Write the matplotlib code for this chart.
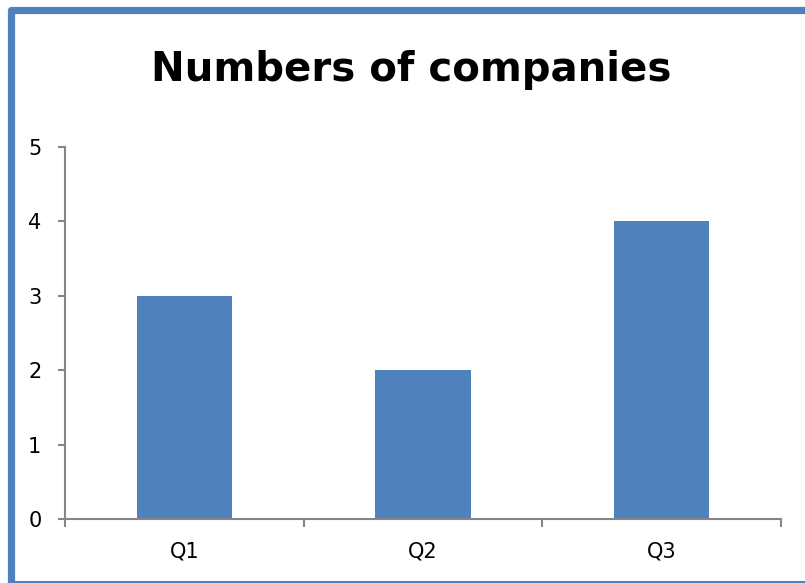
import matplotlib
matplotlib.use("Agg")
import matplotlib.pyplot as plt
from matplotlib.lines import Line2D

categories = ["Q1", "Q2", "Q3"]
counts = [3, 2, 4]
yticks = [0, 1, 2, 3, 4, 5]

W, H = 805, 583
blue = "#4F81BD"
grey = "#868686"

plt.rcParams['font.family'] = ['DejaVu Sans']

fig = plt.figure(figsize=(W / 100, H / 100), dpi=100)

# chart border: thick left/top with rounded corner, thin line at the cut-off bottom
fig.add_artist(Line2D([10.5 / W, 10.5 / W, 1.05], [-0.05, 1 - 9.5 / H, 1 - 9.5 / H],
                      transform=fig.transFigure, color=blue, linewidth=5.2,
                      solid_joinstyle="round"))
fig.add_artist(Line2D([14 / W, 1.05], [1 - 582 / H, 1 - 582 / H],
                      transform=fig.transFigure, color=blue, linewidth=1.5))

ax = fig.add_axes([65 / W, 1 - 519 / H, (781 - 65) / W, (519 - 147) / H])
ax.patch.set_alpha(0)
ax.set_zorder(2)

x = range(len(categories))
ax.bar(x, counts, width=0.4, color=blue, zorder=2)

ax.set_xlim(-0.5, len(categories) - 0.5)
ax.set_ylim(0, 5)
ax.set_yticks(yticks)
ax.set_xticks(list(x))
ax.set_xticklabels(categories)
ax.set_xticks([i - 0.5 for i in range(len(categories) + 1)], minor=True)

for s in ["top", "right"]:
    ax.spines[s].set_visible(False)
for s in ["left", "bottom"]:
    ax.spines[s].set_color(grey)
    ax.spines[s].set_linewidth(1.5)

ax.tick_params(axis="y", direction="out", length=5, width=1.5, color=grey,
               labelsize=15, pad=12)
ax.tick_params(axis="x", which="major", length=0, labelsize=15, pad=16)
ax.tick_params(axis="x", which="minor", direction="out", length=6, width=1.5, color=grey)

fig.text(411 / W, 1 - 70 / H, "Numbers of companies", ha="center", va="center",
         fontsize=29, fontweight="bold")

fig.savefig("out.png", dpi=100)
